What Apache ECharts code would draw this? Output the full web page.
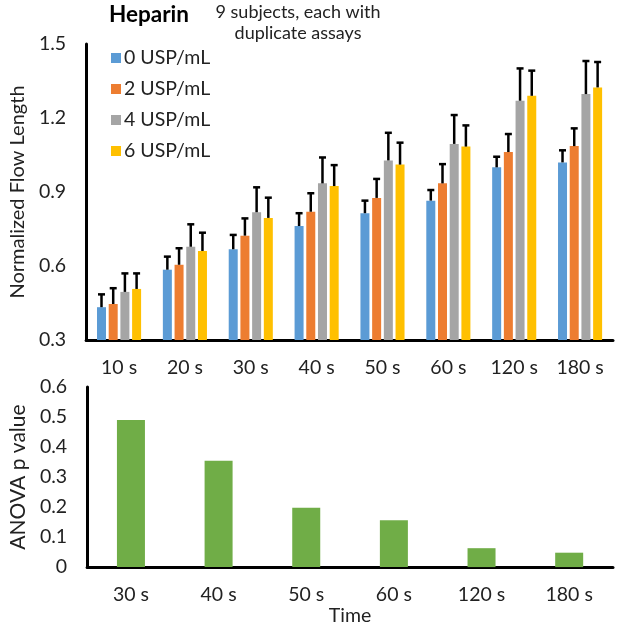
<!DOCTYPE html>
<html>
<head>
<meta charset="utf-8">
<script src="https://cdn.jsdelivr.net/npm/echarts@6/dist/echarts.min.js"></script>
<style>
  html, body { margin: 0; padding: 0; background: #fff; }
  #chart { width: 620px; height: 627px; }
</style>
</head>
<body>
<div id="chart"></div>
<script>
// 上图：各浓度下的归一化流动长度
const times = ["10 s", "20 s", "30 s", "40 s", "50 s", "60 s", "120 s", "180 s"]
const doseNames = ["0 USP/mL", "2 USP/mL", "4 USP/mL", "6 USP/mL"]
const dose0 = [0.433, 0.585, 0.668, 0.762, 0.814, 0.865, 1.000, 1.020]
const dose2 = [0.446, 0.605, 0.723, 0.820, 0.876, 0.935, 1.062, 1.086]
const dose4 = [0.495, 0.678, 0.818, 0.935, 1.028, 1.095, 1.270, 1.297]
const dose6 = [0.507, 0.661, 0.795, 0.924, 1.011, 1.084, 1.290, 1.324]
const err0 = [0.052, 0.053, 0.058, 0.052, 0.051, 0.043, 0.043, 0.049]
const err2 = [0.064, 0.067, 0.070, 0.075, 0.077, 0.078, 0.073, 0.072]
const err4 = [0.075, 0.091, 0.101, 0.105, 0.112, 0.117, 0.131, 0.134]
const err6 = [0.063, 0.074, 0.082, 0.085, 0.089, 0.086, 0.102, 0.103]
const flowTicks = [0.3, 0.6, 0.9, 1.2, 1.5]

// 下图：ANOVA p 值
const anovaTimes = ["30 s", "40 s", "50 s", "60 s", "120 s", "180 s"]
const anovaP = [0.490, 0.354, 0.198, 0.156, 0.063, 0.048]
const pTicks = [0, 0.1, 0.2, 0.3, 0.4, 0.5, 0.6]

const colors = ["#5B9BD5", "#ED7D31", "#A5A5A5", "#FFC000"]
const font = "Lato, 'Open Sans', sans-serif"
const txt = "#222"
const barW = 9
const barGap = 2.7

const means = [dose0, dose2, dose4, dose6]
const errs = [err0, err2, err4, err6]

const axisLine = { show: true, lineStyle: { color: "#000", width: 3 } }

const barSeries = means.map((d, i) => ({
  name: doseNames[i],
  type: "bar",
  xAxisIndex: 0,
  yAxisIndex: 0,
  barWidth: barW,
  barGap: (barGap / barW * 100) + "%",
  itemStyle: { color: colors[i] },
  data: d
}))

// 误差线（只画上半部分）
const errSeries = means.map((d, i) => ({
  name: "err" + i,
  type: "custom",
  xAxisIndex: 0,
  yAxisIndex: 0,
  z: 5,
  data: d.map((v, k) => [k, v, v + errs[i][k]]),
  renderItem: (params, api) => {
    const offset = (i - 1.5) * (barW + barGap)
    const p1 = api.coord([api.value(0), api.value(1)])
    const p2 = api.coord([api.value(0), api.value(2)])
    const x = p1[0] + offset
    const style = { stroke: "#000", lineWidth: 2.5 }
    return {
      type: "group",
      children: [
        { type: "line", shape: { x1: x, y1: p1[1], x2: x, y2: p2[1] }, style },
        { type: "line", shape: { x1: x - 3.5, y1: p2[1], x2: x + 3.5, y2: p2[1] }, style }
      ]
    }
  }
}))

const myChart = echarts.init(document.getElementById("chart"))
myChart.setOption({
  animation: false,
  textStyle: { fontFamily: font },
  grid: [
    { left: 80, top: 44, width: 533, height: 296 },
    { left: 80, top: 387, width: 533, height: 185 }
  ],
  legend: {
    data: doseNames,
    orient: "vertical",
    left: 106,
    top: 42,
    itemWidth: 10,
    itemHeight: 10,
    itemGap: 9,
    icon: "rect",
    textStyle: { fontFamily: font, fontSize: 19.5, color: txt, lineHeight: 22, padding: [0, 0, 0, -2] }
  },
  graphic: [
    { type: "text", left: 109, top: 3, style: { text: "Heparin", font: "bold 22.5px " + font, fill: "#000" } },
    { type: "text", x: 298, y: 2, style: { text: "9 subjects, each with\nduplicate assays", font: "18px " + font, fill: txt, align: "center", lineHeight: 21 } }
  ],
  xAxis: [
    {
      type: "category", gridIndex: 0, data: times,
      axisLine, axisTick: { show: false },
      axisLabel: { fontSize: 19.5, color: txt, margin: 18 }
    },
    {
      type: "category", gridIndex: 1, data: anovaTimes,
      axisLine, axisTick: { show: false },
      axisLabel: { fontSize: 19.5, color: txt, margin: 18 },
      name: "Time", nameLocation: "middle", nameGap: 36,
      nameTextStyle: { fontSize: 19.5, color: txt }
    }
  ],
  yAxis: [
    {
      type: "value", gridIndex: 0, min: flowTicks[0], max: flowTicks[flowTicks.length - 1], interval: 0.3,
      axisLine, axisTick: { show: false }, splitLine: { show: false },
      axisLabel: { fontSize: 19.5, color: txt, margin: 20, formatter: (v) => v.toFixed(1) },
      name: "Normalized Flow Length", nameLocation: "middle", nameGap: 54,
      nameTextStyle: { fontSize: 20, color: txt }
    },
    {
      type: "value", gridIndex: 1, min: pTicks[0], max: pTicks[pTicks.length - 1], interval: 0.1,
      axisLine, axisTick: { show: false }, splitLine: { show: false },
      axisLabel: { fontSize: 19.5, color: txt, margin: 20, formatter: (v) => v === 0 ? "0" : v.toFixed(1) },
      name: "ANOVA p value", nameLocation: "middle", nameGap: 54,
      nameTextStyle: { fontSize: 21, color: txt }
    }
  ],
  series: barSeries.concat(errSeries, [{
    name: "p",
    type: "bar",
    xAxisIndex: 1,
    yAxisIndex: 1,
    barWidth: 28,
    itemStyle: { color: "#70AD47" },
    data: anovaP
  }])
})
</script>
</body>
</html>
